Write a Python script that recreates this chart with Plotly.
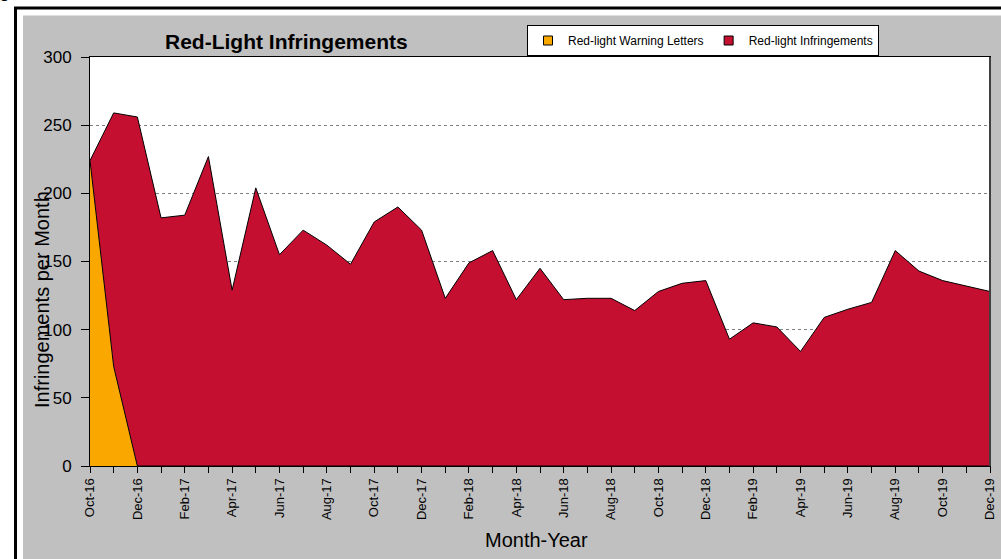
import plotly.graph_objects as go

months = ["Oct-16", "Nov-16", "Dec-16", "Jan-17", "Feb-17", "Mar-17", "Apr-17", "May-17",
          "Jun-17", "Jul-17", "Aug-17", "Sep-17", "Oct-17", "Nov-17", "Dec-17", "Jan-18",
          "Feb-18", "Mar-18", "Apr-18", "May-18", "Jun-18", "Jul-18", "Aug-18", "Sep-18",
          "Oct-18", "Nov-18", "Dec-18", "Jan-19", "Feb-19", "Mar-19", "Apr-19", "May-19",
          "Jun-19", "Jul-19", "Aug-19", "Sep-19", "Oct-19", "Nov-19", "Dec-19"]

warning_letters = [224, 73, 0, 0, 0, 0, 0, 0, 0, 0, 0, 0, 0, 0, 0, 0, 0, 0, 0, 0,
                   0, 0, 0, 0, 0, 0, 0, 0, 0, 0, 0, 0, 0, 0, 0, 0, 0, 0, 0]

infringements = [0, 186, 256, 182, 184, 227, 129, 204, 155, 173, 162, 148, 179, 190, 173, 123,
                 149, 158, 122, 145, 122, 123, 123, 114, 128, 134, 136, 93, 105, 102, 84, 109,
                 115, 120, 158, 143, 136, 132, 128]

tick_labels = [m if i % 2 == 0 else "" for i, m in enumerate(months)]

ORANGE = "#FAA800"
RED = "#C40F31"
FONT = "Liberation Sans, Arial, sans-serif"

fig = go.Figure()
fig.add_trace(go.Scatter(x=months, y=warning_letters, name="Red-light Warning Letters",
                         stackgroup="one", mode="lines", line=dict(color="black", width=1),
                         fillcolor=ORANGE, showlegend=False, hoverinfo="x+y"))
fig.add_trace(go.Scatter(x=months, y=infringements, name="Red-light Infringements",
                         stackgroup="one", mode="lines", line=dict(color="black", width=1),
                         fillcolor=RED, showlegend=False, hoverinfo="x+y"))
# legend entries
fig.add_trace(go.Scatter(x=[None], y=[None], mode="markers", name="Red-light Warning Letters",
                         marker=dict(symbol="square", size=9, color=ORANGE,
                                     line=dict(color="black", width=1))))
fig.add_trace(go.Scatter(x=[None], y=[None], mode="markers", name="Red-light Infringements",
                         marker=dict(symbol="square", size=9, color=RED,
                                     line=dict(color="black", width=1))))

L, R, T, B = 90, 11, 57, 93
W, H = 1001, 559
PW = W - L - R
PH = H - T - B


def px(x):
    return (x - L) / PW


def py(y):
    return (H - B - y) / PH


fig.update_layout(
    width=W, height=H,
    margin=dict(l=L, r=R, t=T, b=B, pad=0, autoexpand=False),
    paper_bgcolor="white",
    plot_bgcolor="white",
    font=dict(family=FONT, color="black"),
    showlegend=True,
    legend=dict(orientation="h", x=px(879), xanchor="right", y=py(25), yanchor="top",
                bgcolor="white", bordercolor="black", borderwidth=1,
                font=dict(size=12, family=FONT), itemwidth=30, traceorder="normal"),
    xaxis=dict(type="category", range=[0, len(months) - 1],
               tickmode="array", tickvals=months, ticktext=tick_labels,
               tickangle=-90, tickfont=dict(size=13, family=FONT),
               ticks="outside", ticklen=6, tickcolor="black", tickwidth=1,
               showline=True, linecolor="black", linewidth=1, mirror=True,
               showgrid=False, zeroline=False, automargin=False),
    yaxis=dict(range=[0, 300], tickmode="array", tickvals=[0, 50, 100, 150, 200, 250, 300],
               tickfont=dict(size=17, family=FONT),
               ticks="outside", ticklen=8, tickcolor="black", tickwidth=1,
               ticklabelstandoff=6,
               showline=True, linecolor="black", linewidth=1, mirror=True,
               showgrid=True, gridcolor="#808080", griddash="dot", gridwidth=1,
               zeroline=False, automargin=False),
    shapes=[
        dict(type="rect", xref="paper", yref="paper", layer="below",
             x0=px(23), x1=px(1015), y0=py(15.5), y1=py(575),
             fillcolor="#C0C0C0", line=dict(width=0)),
        dict(type="rect", xref="paper", yref="paper", layer="below",
             x0=px(15.5), x1=px(1015), y0=py(8), y1=py(575),
             line=dict(color="black", width=3)),
        dict(type="rect", xref="paper", yref="paper", layer="below",
             x0=0, x1=1, y0=0, y1=1, fillcolor="white", line=dict(width=0)),
        dict(type="line", xref="paper", yref="paper", layer="above",
             x0=1, x1=1, y0=0, y1=1, line=dict(color="#404040", width=2)),
    ],
    annotations=[
        dict(text="<b>Red-Light Infringements</b>", xref="paper", yref="paper",
             x=px(286), y=py(41), xanchor="center", yanchor="middle", showarrow=False,
             font=dict(size=21, family=FONT)),
        dict(text="Infringements per Month", xref="paper", yref="paper",
             x=px(42), y=py(300), xanchor="center", yanchor="middle", showarrow=False,
             textangle=-90, font=dict(size=20, family=FONT)),
        dict(text="Month-Year", xref="paper", yref="paper",
             x=px(536), y=py(540), xanchor="center", yanchor="middle", showarrow=False,
             font=dict(size=20, family=FONT)),
        dict(text="<b>ng</b>", xref="paper", yref="paper",
             x=px(12), y=py(3), xanchor="right", yanchor="bottom", showarrow=False,
             font=dict(size=16, family=FONT)),
    ],
)

fig.write_html("out.html", config={"displayModeBar": False},
               post_script="document.body.style.margin='0';document.body.style.overflow='hidden';")
